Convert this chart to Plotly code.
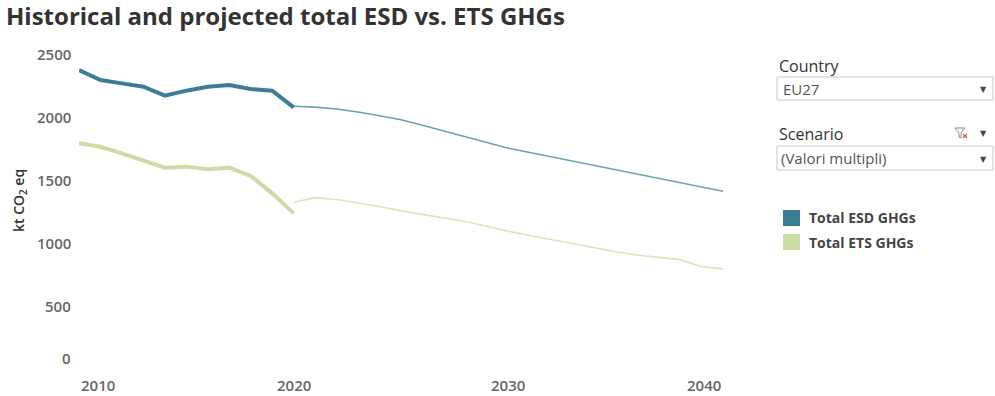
import plotly.graph_objects as go

# ---------------- data ----------------
hist_years = list(range(2010, 2021))
esd_hist = [2373, 2294, 2267, 2240, 2169, 2209, 2240, 2254, 2222, 2209, 2077]
ets_hist = [1791, 1764, 1712, 1659, 1598, 1606, 1585, 1598, 1532, 1394, 1236]

proj_years = list(range(2020, 2041))
esd_proj = [2085, 2078, 2063, 2040, 2010, 1978, 1935, 1890, 1845, 1800, 1752,
            1718, 1684, 1650, 1616, 1582, 1548, 1514, 1480, 1445, 1410]
ets_proj = [1323, 1360, 1345, 1320, 1290, 1255, 1228, 1200, 1170, 1133, 1093,
            1060, 1027, 994, 960, 930, 905, 885, 868, 812, 795]

y_ticks = [0, 500, 1000, 1500, 2000, 2500]
x_ticks = [2010, 2020, 2030, 2040]
series_names = ["Total ESD GHGs", "Total ETS GHGs"]
title_text = "Historical and projected total ESD vs. ETS GHGs"
y_title = "kt CO<sub>2</sub> eq"
country_label, country_value = "Country", "EU27"
scenario_label, scenario_value = "Scenario", "(Valori multipli)"

# ---------------- styling ----------------
W, H = 995, 396
L, R, T, B = 79, 723, 46, 369
ESD_DARK, ESD_LIGHT = "#3b7d96", "#6d9fb6"
ETS_DARK, ETS_LIGHT = "#cbdda4", "#d9e6bd"
FONT = "Open Sans"


def px(x):
    return (x - L) / (R - L)


def py(y):
    return (B - y) / (B - T)


fig = go.Figure()
fig.add_trace(go.Scatter(x=proj_years, y=ets_proj, mode="lines",
                         line=dict(color=ETS_LIGHT, width=1.6), hoverinfo="skip"))
fig.add_trace(go.Scatter(x=proj_years, y=esd_proj, mode="lines",
                         line=dict(color=ESD_LIGHT, width=1.6), hoverinfo="skip"))
fig.add_trace(go.Scatter(x=hist_years, y=ets_hist, mode="lines",
                         line=dict(color=ETS_DARK, width=4), hoverinfo="skip"))
fig.add_trace(go.Scatter(x=hist_years, y=esd_hist, mode="lines",
                         line=dict(color=ESD_DARK, width=4), hoverinfo="skip"))

TICKFONT = dict(family=FONT, size=15, color="#666666", weight=600)

ann = []
# title
ann.append(dict(text="<b>" + title_text + "</b>", xref="paper", yref="paper",
                x=px(4), y=py(15), xanchor="left", yanchor="middle", showarrow=False,
                font=dict(family=FONT, size=24, color="#333333")))
# y tick labels
for v in y_ticks:
    ann.append(dict(text=str(v), xref="paper", yref="y", x=px(73), y=v,
                    xanchor="right", yanchor="middle", showarrow=False,
                    yshift=11 if v == 0 else 0, font=TICKFONT))
# x tick labels
anchors = {2010: "left", 2020: "center", 2030: "center", 2040: "right"}
for yr in x_ticks:
    ann.append(dict(text=str(yr), xref="x", yref="paper", x=yr, y=py(385),
                    xanchor=anchors[yr], yanchor="middle", showarrow=False,
                    font=TICKFONT))
# y title
ann.append(dict(text=y_title, xref="paper", yref="paper", x=px(20), y=py(200),
                textangle=-90, xanchor="center", yanchor="middle", showarrow=False,
                font=dict(family=FONT, size=14, color="#333333", weight=600)))

# right panel: filters
ann.append(dict(text=country_label, xref="paper", yref="paper", x=px(777), y=py(66),
                xanchor="left", yanchor="middle", showarrow=False,
                font=dict(family=FONT, size=16, color="#333333")))
ann.append(dict(text=country_value, xref="paper", yref="paper", x=px(781), y=py(89),
                xanchor="left", yanchor="middle", showarrow=False,
                font=dict(family=FONT, size=15, color="#555555")))
ann.append(dict(text=scenario_label, xref="paper", yref="paper", x=px(777), y=py(134),
                xanchor="left", yanchor="middle", showarrow=False,
                font=dict(family=FONT, size=16, color="#333333")))
ann.append(dict(text=scenario_value, xref="paper", yref="paper", x=px(779), y=py(158),
                xanchor="left", yanchor="middle", showarrow=False,
                font=dict(family=FONT, size=15, color="#555555")))
for ay in (89, 159, 133):
    ann.append(dict(text="▼", xref="paper", yref="paper", x=px(983), y=py(ay),
                    xanchor="center", yanchor="middle", showarrow=False,
                    font=dict(family="DejaVu Sans", size=8, color="#444444")))

# legend text
for name, ly in zip(series_names, (218, 242)):
    ann.append(dict(text="<b>" + name + "</b>", xref="paper", yref="paper",
                    x=px(807), y=py(ly), xanchor="left", yanchor="middle", showarrow=False,
                    font=dict(family=FONT, size=14, color="#444444")))

shapes = []
# dropdown boxes
for (y0, y1) in ((77, 100), (146, 170)):
    shapes.append(dict(type="rect", xref="paper", yref="paper",
                       x0=px(777), x1=px(993), y0=py(y1), y1=py(y0),
                       line=dict(color="#c8c8c8", width=1), fillcolor="white",
                       layer="below"))
# legend swatches
for col, ly in zip((ESD_DARK, ETS_DARK), (218, 242)):
    shapes.append(dict(type="rect", xref="paper", yref="paper",
                       x0=px(783), x1=px(800), y0=py(ly + 8), y1=py(ly - 8),
                       line=dict(width=0), fillcolor=col))
# filter funnel icon
fx, fy = 955, 128
funnel = "M {} {} L {} {} L {} {} L {} {} L {} {} L {} {} Z".format(
    px(fx), py(fy), px(fx + 10), py(fy), px(fx + 6), py(fy + 5),
    px(fx + 6), py(fy + 10), px(fx + 4), py(fy + 9), px(fx + 4), py(fy + 5))
shapes.append(dict(type="path", xref="paper", yref="paper", path=funnel,
                   line=dict(color="#8a8a8a", width=1), fillcolor="rgba(0,0,0,0)"))
shapes.append(dict(type="line", xref="paper", yref="paper",
                   x0=px(fx + 8), x1=px(fx + 12), y0=py(fy + 6), y1=py(fy + 10),
                   line=dict(color="#d9534f", width=1.3)))
shapes.append(dict(type="line", xref="paper", yref="paper",
                   x0=px(fx + 8), x1=px(fx + 12), y0=py(fy + 10), y1=py(fy + 6),
                   line=dict(color="#d9534f", width=1.3)))

fig.update_layout(
    width=W, height=H,
    margin=dict(l=L, r=W - R, t=T, b=H - B),
    paper_bgcolor="white", plot_bgcolor="white",
    showlegend=False,
    xaxis=dict(range=[2010, 2040], showgrid=False, zeroline=False, showline=False,
               showticklabels=False, ticks="", fixedrange=True),
    yaxis=dict(range=[0, (B - T) / 0.126], showgrid=False, zeroline=False, showline=False,
               showticklabels=False, ticks="", fixedrange=True),
    annotations=ann, shapes=shapes,
    font=dict(family=FONT),
)

fig.write_html("out.html", config={"displayModeBar": False},
               post_script="document.body.style.margin='0';document.body.style.overflow='hidden';")
